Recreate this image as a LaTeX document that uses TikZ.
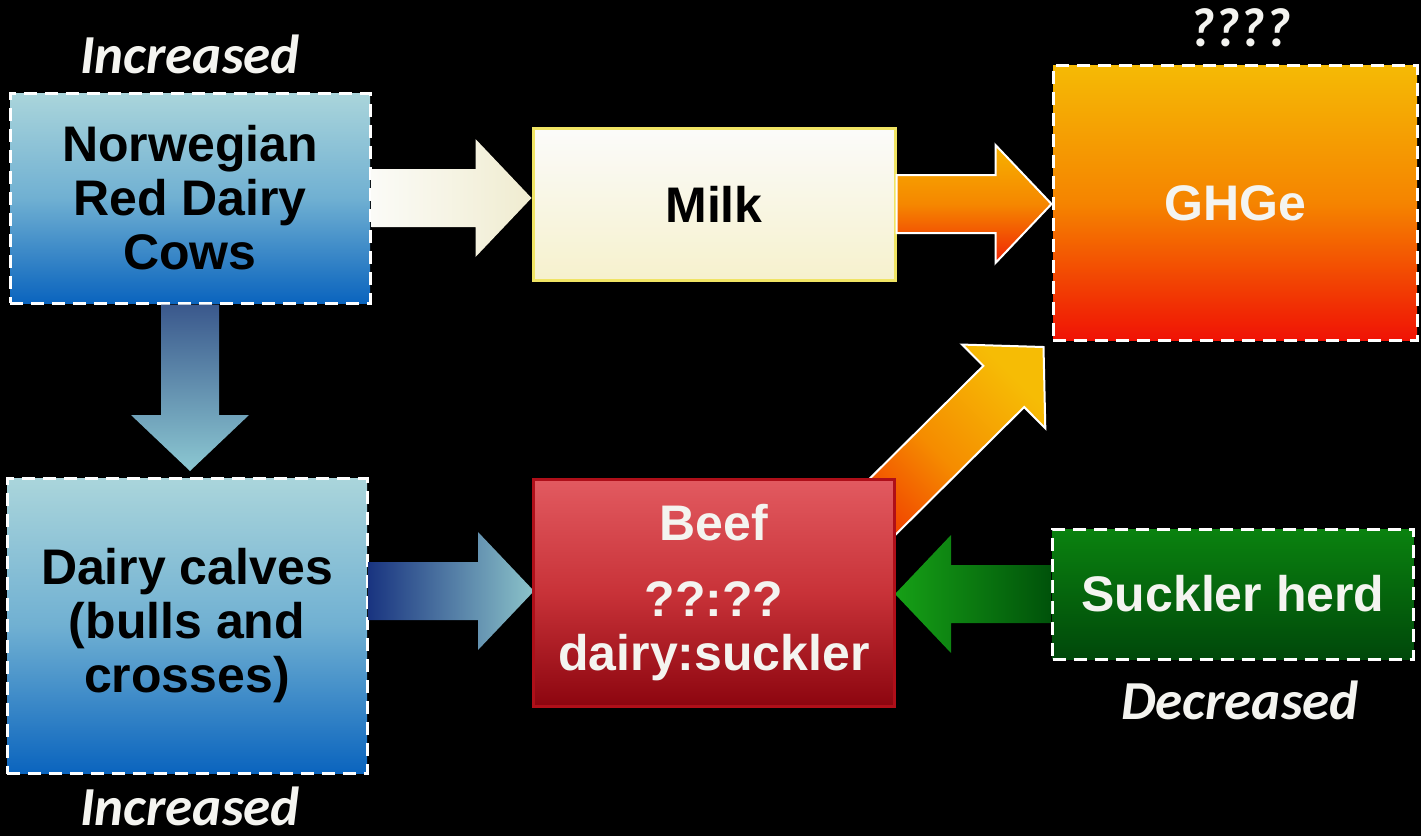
\documentclass[tikz,border=0pt]{standalone}
\usepackage{fontspec}
\setmainfont{Liberation Sans}
\newfontfamily\labfont{Carlito}
\usetikzlibrary{calc}
\definecolor{txtw}{RGB}{244,244,240}
\newcommand{\blockarr}[3]{%
  \coordinate (ba-h) at ($(#2)!56pt!(#1)$);
  \path[#3] ($(#1)!29pt!90:(#2)$) -- ($(ba-h)!29pt!-90:(#1)$) -- ($(ba-h)!59pt!-90:(#1)$) -- (#2)
    -- ($(ba-h)!59pt!90:(#1)$) -- ($(ba-h)!29pt!90:(#1)$) -- ($(#1)!29pt!-90:(#2)$) -- cycle;
}
\tikzset{
  box/.style={rectangle, inner sep=0pt, align=center,
    font=\fontsize{50}{54}\selectfont\bfseries},
  dbord/.style={draw=white, line width=3pt, dash pattern=on 13pt off 8pt},
  bluebox/.style={box, dbord, top color={rgb,255:red,170;green,213;blue,219},
    bottom color={rgb,255:red,10;green,100;blue,190},
    middle color={rgb,255:red,112;green,176;blue,210}, text=black},
  lab/.style={inner sep=0pt, font=\labfont\fontsize{55}{58}\selectfont\bfseries\itshape, text=txtw},
}
\begin{document}
\begin{tikzpicture}[x=1pt,y=-1pt]
\fill[black] (0,0) rectangle (1421,836);

% boxes
\path
  node[bluebox, minimum width=360pt, minimum height=210pt] (nrc) at (190,198) {Norwegian\\Red Dairy\\Cows}
  node[box, minimum width=362pt, minimum height=152pt, draw={rgb,255:red,240;green,228;blue,100}, line width=3pt,
       top color={rgb,255:red,251;green,251;blue,250}, bottom color={rgb,255:red,246;green,241;blue,205}, text=black] (milk) at (714,204) {Milk}
  node[box, dbord, minimum width=364pt, minimum height=275pt,
       top color={rgb,255:red,245;green,186;blue,5}, bottom color={rgb,255:red,240;green,18;blue,5},
       middle color={rgb,255:red,245;green,132;blue,0}, text=txtw] (ghg) at (1235,203) {GHGe}
  node[bluebox, minimum width=360pt, minimum height=295pt] (calves) at (187,626) {Dairy calves\\(bulls and\\crosses)}
  node[box, dbord, minimum width=361pt, minimum height=130pt,
       top color={rgb,255:red,10;green,130;blue,15}, bottom color={rgb,255:red,0;green,72;blue,10}, text=txtw] (suckler) at (1233,594) {Suckler herd};

% connector end points
\coordinate (a1e) at (milk.west |- nrc.east);
\coordinate (a2e) at (ghg.west |- milk.east);
\coordinate (a3e) at ($(nrc.south |- calves.north)+(0,-6)$);
\coordinate (a4s) at (calves.east |- 0,591);
\coordinate (a4e) at (534,591);
\coordinate (a5e) at (895,594);
\coordinate (a6s) at (850,539);
\coordinate (a6e) at ($(ghg.south west)+(-8,5)$);

% arrows
\blockarr{nrc.east}{a1e}{left color={rgb,255:red,251;green,251;blue,247}, right color={rgb,255:red,240;green,236;blue,208}}
\blockarr{milk.east}{a2e}{top color={rgb,255:red,247;green,178;blue,0}, bottom color={rgb,255:red,240;green,35;blue,5}, middle color={rgb,255:red,245;green,135;blue,0}, draw=white, line width=2pt}
\blockarr{nrc.south}{a3e}{top color={rgb,255:red,58;green,88;blue,140}, bottom color={rgb,255:red,140;green,200;blue,210}}
\blockarr{a4s}{a4e}{left color={rgb,255:red,25;green,52;blue,128}, right color={rgb,255:red,140;green,196;blue,202}}
\blockarr{suckler.west}{a5e}{left color={rgb,255:red,22;green,160;blue,22}, right color={rgb,255:red,0;green,82;blue,10}}
\blockarr{a6s}{a6e}{top color={rgb,255:red,246;green,188;blue,5}, bottom color={rgb,255:red,240;green,50;blue,0}, middle color={rgb,255:red,245;green,140;blue,0}, shading angle=-45, draw=white, line width=2pt}

% beef box drawn on top of the diagonal arrow tail
\node[box, minimum width=361pt, minimum height=227pt, draw={rgb,255:red,175;green,15;blue,25}, line width=3pt,
      top color={rgb,255:red,226;green,90;blue,96}, bottom color={rgb,255:red,140;green,5;blue,15},
      middle color={rgb,255:red,200;green,50;blue,56}, text=txtw] (beef) at (714,593) {Beef\\[22pt]??:??\\dairy:suckler};

% labels
\node[lab] (inctop) at (190,54) {Increased};
\node[lab] (qq) at (1240,28) {????};
\node[lab] (incbot) at (190,806) {Increased};
\node[lab] (dec) at (1240,700) {Decreased};
\end{tikzpicture}
\end{document}
